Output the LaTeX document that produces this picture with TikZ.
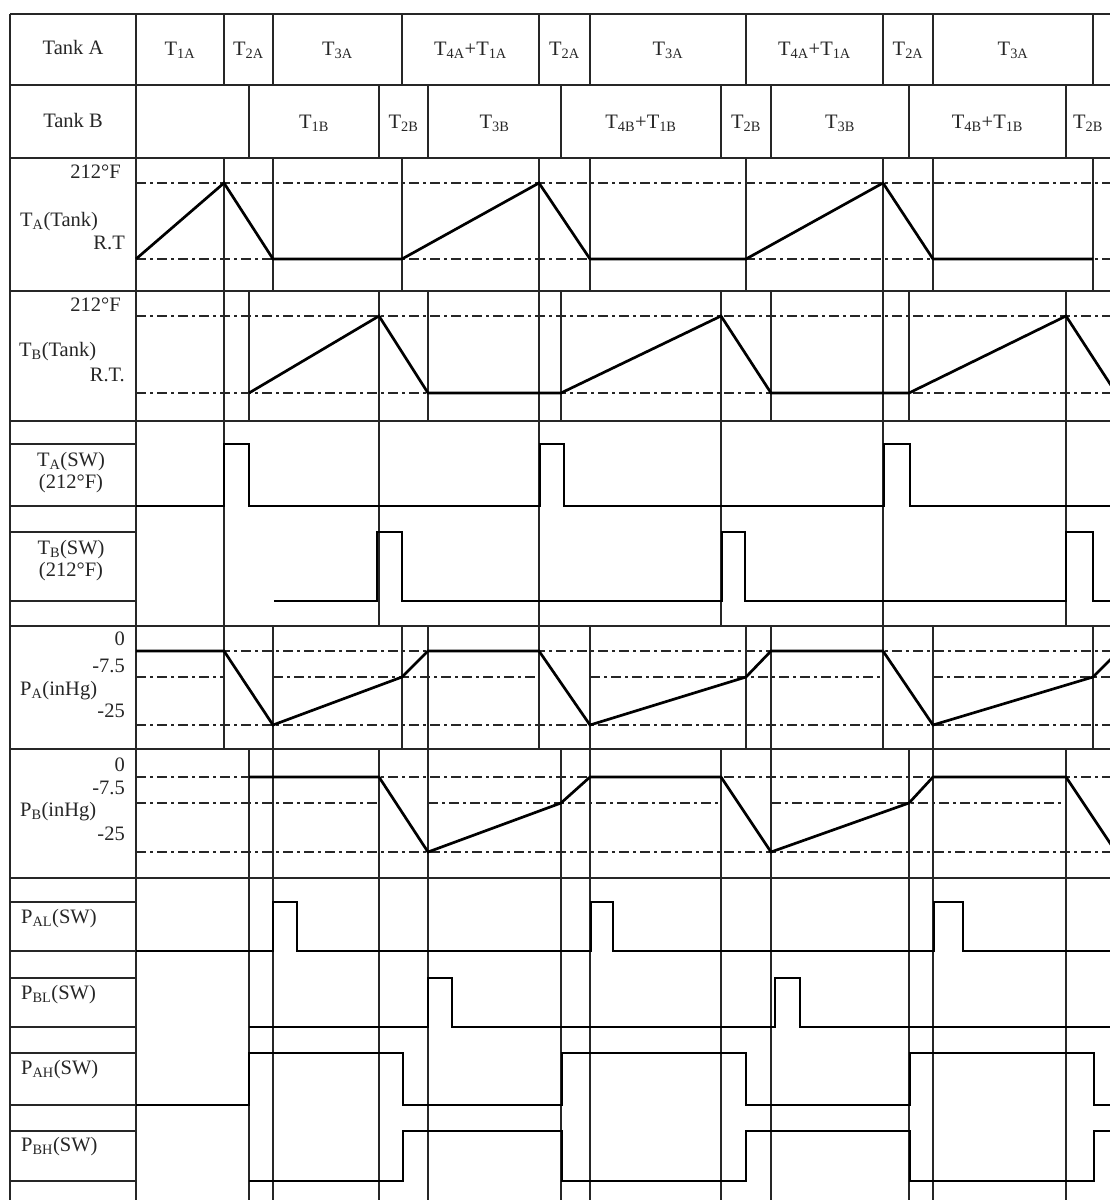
\documentclass[tikz,border=0pt]{standalone}
\usepackage{fontspec}
\setmainfont{Liberation Serif}
\newcommand{\mysub}[1]{\textsubscript{#1}}
\begin{document}
\begin{tikzpicture}[x=1pt,y=-1pt,
  gridline/.style={line width=1.2pt,black!85},
  dashdot/.style={line width=1.4pt,black!85,dash pattern=on 10pt off 4pt on 3pt off 4pt},
  wave/.style={line width=2.7pt,black,line join=miter},
  txt/.style={inner sep=0pt,font=\fontsize{20.5}{22}\selectfont,text=black!85},
]
\useasboundingbox (0,0) rectangle (1110,1200);
\fill[white] (0,0) rectangle (1110,1200);
\clip (0,0) rectangle (1110,1200);

% ---------- dash-dot reference levels ----------
\foreach \y in {183,259,316,393,651,725,777,852}
  \draw[dashdot] (136,\y) -- (1112,\y);
\foreach \a/\b in {136/224,273/539,590/883,933/1112}
  \draw[dashdot] (\a,677) -- (\b,677);
\foreach \a/\b in {136/379,428/721,771/1066}
  \draw[dashdot] (\a,803) -- (\b,803);

% ---------- frame and row lines ----------
\foreach \y in {14,85,158,291,421,626,749,878}
  \draw[gridline] (10,\y) -- (1112,\y);
\foreach \y in {444,506,532,601,902,951,978,1027,1053,1105,1131,1181}
  \draw[gridline] (10,\y) -- (136,\y);
\draw[gridline] (10,14) -- (10,1202);
\draw[gridline] (136,14) -- (136,1202);

% ---------- phase boundaries of tank A ----------
\foreach \x in {224,539,883}
  \draw[gridline] (\x,14) -- (\x,85) (\x,158) -- (\x,749);
\foreach \x in {273,590,933}
  \draw[gridline] (\x,14) -- (\x,85) (\x,158) -- (\x,291) (\x,626) -- (\x,1202);
\foreach \x in {402,746,1093}
  \draw[gridline] (\x,14) -- (\x,85) (\x,158) -- (\x,291) (\x,626) -- (\x,749);
% ---------- phase boundaries of tank B ----------
\foreach \x in {249,561,909}
  \draw[gridline] (\x,85) -- (\x,158) (\x,291) -- (\x,421) (\x,749) -- (\x,1202);
\foreach \x in {379,721,1066}
  \draw[gridline] (\x,85) -- (\x,158) (\x,291) -- (\x,626) (\x,749) -- (\x,1202);
\foreach \x in {428,771}
  \draw[gridline] (\x,85) -- (\x,158) (\x,291) -- (\x,421) (\x,626) -- (\x,1202);

% ---------- waveforms ----------
\draw[wave] (136,259) -- (224,183) -- (273,259) -- (402,259) -- (539,183) -- (590,259)
  -- (746,259) -- (883,183) -- (933,259) -- (1093,259);
\draw[wave] (249,393) -- (379,316) -- (428,393) -- (561,393) -- (721,316) -- (771,393)
  -- (909,393) -- (1066,316) -- (1116,393);
\draw[wave] (136,506) -- (224,506) -- (224,444) -- (249,444) -- (249,506) -- (540,506)
  -- (540,444) -- (564,444) -- (564,506) -- (884,506) -- (884,444) -- (910,444)
  -- (910,506) -- (1112,506);
\draw[wave] (274,601) -- (377,601) -- (377,532) -- (402,532) -- (402,601) -- (722,601)
  -- (722,532) -- (745,532) -- (745,601) -- (1066,601) -- (1066,532) -- (1093,532)
  -- (1093,601) -- (1112,601);
\draw[wave] (136,651) -- (224,651) -- (273,725) -- (402,677) -- (428,651) -- (539,651)
  -- (590,725) -- (746,677) -- (771,651) -- (883,651) -- (933,725) -- (1093,677)
  -- (1119,651);
\draw[wave] (249,777) -- (379,777) -- (428,852) -- (561,803) -- (590,777) -- (721,777)
  -- (771,852) -- (909,803) -- (933,777) -- (1066,777) -- (1116,852);
\draw[wave] (136,951) -- (273,951) -- (273,902) -- (297,902) -- (297,951) -- (591,951)
  -- (591,902) -- (613,902) -- (613,951) -- (934,951) -- (934,902) -- (963,902)
  -- (963,951) -- (1112,951);
\draw[wave] (249,1027) -- (428,1027) -- (428,978) -- (452,978) -- (452,1027) -- (775,1027)
  -- (775,978) -- (800,978) -- (800,1027) -- (1112,1027);
\draw[wave] (136,1105) -- (249,1105) -- (249,1053) -- (403,1053) -- (403,1105) -- (562,1105)
  -- (562,1053) -- (746,1053) -- (746,1105) -- (910,1105) -- (910,1053) -- (1094,1053)
  -- (1094,1105) -- (1112,1105);
\draw[wave] (249,1181) -- (403,1181) -- (403,1131) -- (562,1131) -- (562,1181) -- (746,1181)
  -- (746,1131) -- (910,1131) -- (910,1181) -- (1094,1181) -- (1094,1131) -- (1112,1131);

% ---------- header texts ----------
\node[txt,anchor=base] (tankA) at (73,54) {Tank A};
\node[txt,anchor=base] (tankB) at (73,127) {Tank B};
\node[txt,anchor=base] (a1) at (180,55) {T\mysub{1A}};
\node[txt,anchor=base] (a2) at (248.5,55) {T\mysub{2A}};
\node[txt,anchor=base] (a3) at (337.5,55) {T\mysub{3A}};
\node[txt,anchor=base] (a4) at (470.5,55) {T\mysub{4A}+T\mysub{1A}};
\node[txt,anchor=base] (a5) at (564.5,55) {T\mysub{2A}};
\node[txt,anchor=base] (a6) at (668,55) {T\mysub{3A}};
\node[txt,anchor=base] (a7) at (814.5,55) {T\mysub{4A}+T\mysub{1A}};
\node[txt,anchor=base] (a8) at (908,55) {T\mysub{2A}};
\node[txt,anchor=base] (a9) at (1013,55) {T\mysub{3A}};
\node[txt,anchor=base] (b1) at (314,128) {T\mysub{1B}};
\node[txt,anchor=base] (b2) at (403.5,128) {T\mysub{2B}};
\node[txt,anchor=base] (b3) at (494.5,128) {T\mysub{3B}};
\node[txt,anchor=base] (b4) at (641,128) {T\mysub{4B}+T\mysub{1B}};
\node[txt,anchor=base] (b5) at (746,128) {T\mysub{2B}};
\node[txt,anchor=base] (b6) at (840,128) {T\mysub{3B}};
\node[txt,anchor=base] (b7) at (987.5,128) {T\mysub{4B}+T\mysub{1B}};
\node[txt,anchor=base] (b8) at (1088,128) {T\mysub{2B}};

% ---------- row labels ----------
\node[txt,anchor=base east] (ta212) at (121,178) {212°F};
\node[txt,anchor=base west] (tatank) at (20,226) {T\mysub{A}(Tank)};
\node[txt,anchor=base east] (tart) at (125,249) {R.T};
\node[txt,anchor=base east] (tb212) at (121,311) {212°F};
\node[txt,anchor=base west] (tbtank) at (19,356) {T\mysub{B}(Tank)};
\node[txt,anchor=base east] (tbrt) at (125,381) {R.T.};
\node[txt,anchor=base] (tasw) at (71,466) {T\mysub{A}(SW)};
\node[txt,anchor=base] (tasw2) at (71,488) {(212°F)};
\node[txt,anchor=base] (tbsw) at (71,554) {T\mysub{B}(SW)};
\node[txt,anchor=base] (tbsw2) at (71,576) {(212°F)};
\node[txt,anchor=base east] (pa0) at (125,645) {0};
\node[txt,anchor=base east] (pa75) at (125,672) {-7.5};
\node[txt,anchor=base west] (pa) at (20,695) {P\mysub{A}(inHg)};
\node[txt,anchor=base east] (pa25) at (125,717) {-25};
\node[txt,anchor=base east] (pb0) at (125,771) {0};
\node[txt,anchor=base east] (pb75) at (125,794) {-7.5};
\node[txt,anchor=base west] (pb) at (20,816) {P\mysub{B}(inHg)};
\node[txt,anchor=base east] (pb25) at (125,840) {-25};
\node[txt,anchor=base west] (pal) at (21,923) {P\mysub{AL}(SW)};
\node[txt,anchor=base west] (pbl) at (21,999) {P\mysub{BL}(SW)};
\node[txt,anchor=base west] (pah) at (21,1074) {P\mysub{AH}(SW)};
\node[txt,anchor=base west] (pbh) at (21,1151) {P\mysub{BH}(SW)};
\end{tikzpicture}
\end{document}
